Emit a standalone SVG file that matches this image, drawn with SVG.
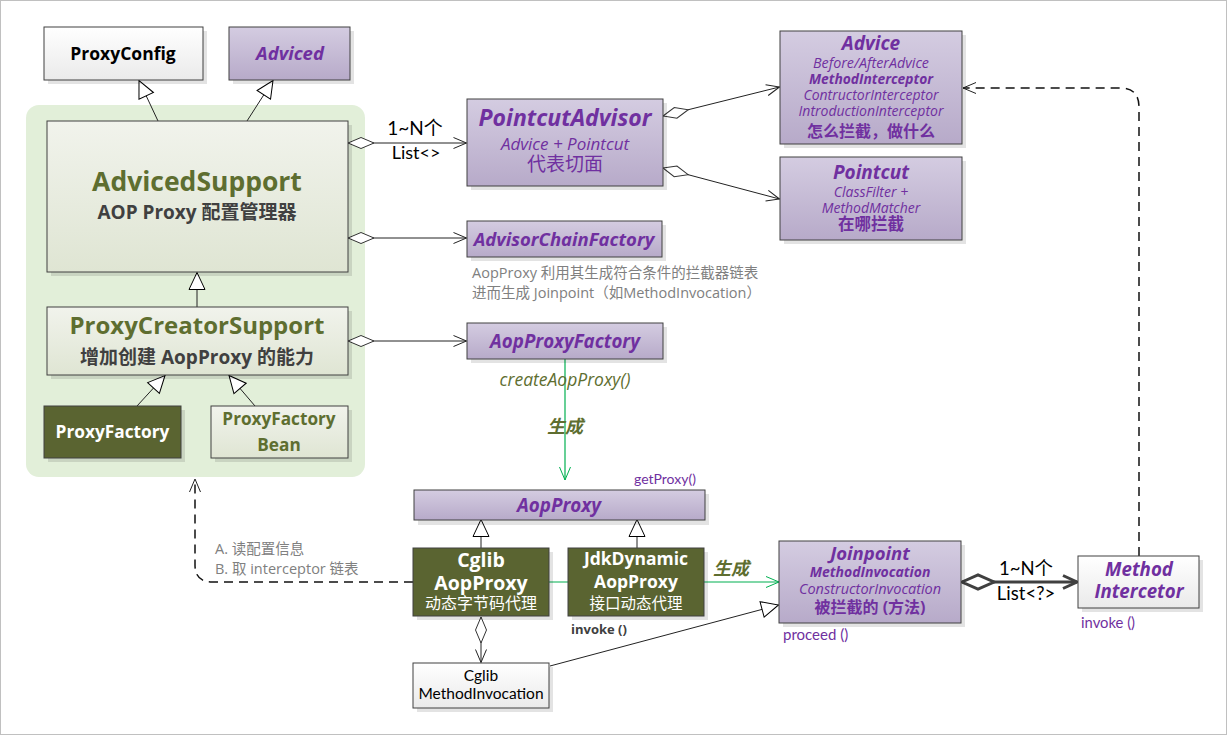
<svg xmlns="http://www.w3.org/2000/svg" width="1227" height="735" viewBox="0 0 1227 735">
<defs>
<linearGradient id="gP" x1="0" y1="0" x2="0" y2="1"><stop offset="0" stop-color="#d4cce1"/><stop offset="1" stop-color="#b7aac9"/></linearGradient>
<linearGradient id="gW" x1="0" y1="0" x2="0" y2="1"><stop offset="0" stop-color="#ffffff"/><stop offset="1" stop-color="#eaeaea"/></linearGradient>
<linearGradient id="gL" x1="0" y1="0" x2="0" y2="1"><stop offset="0" stop-color="#f1f3ec"/><stop offset="1" stop-color="#dfe5d3"/></linearGradient>
<marker id="tri" viewBox="0 0 20 18" markerWidth="20" markerHeight="18" refX="18" refY="9" orient="auto" markerUnits="userSpaceOnUse"><path d="M1,1 L18,9 L1,17 Z" fill="#fff" stroke="#000" stroke-width="1"/></marker>
<marker id="dia" viewBox="0 0 30 14" markerWidth="30" markerHeight="14" refX="1" refY="7" orient="auto" markerUnits="userSpaceOnUse"><path d="M1,7 L14,1.5 L27,7 L14,12.5 Z" fill="#fff" stroke="#333" stroke-width="1"/></marker>
<marker id="arr" viewBox="0 0 16 14" markerWidth="16" markerHeight="14" refX="14" refY="7" orient="auto" markerUnits="userSpaceOnUse"><path d="M1,1.5 L14,7 L1,12.5" fill="none" stroke="#222" stroke-width="1"/></marker>
<marker id="arrG" viewBox="0 0 16 14" markerWidth="16" markerHeight="14" refX="14" refY="7" orient="auto" markerUnits="userSpaceOnUse"><path d="M1,1.5 L14,7 L1,12.5" fill="none" stroke="#00b050" stroke-width="1"/></marker>
<marker id="diaT" viewBox="0 0 40 20" markerWidth="40" markerHeight="20" refX="2" refY="10" orient="auto" markerUnits="userSpaceOnUse"><path d="M2,10 L18,3 L34,10 L18,17 Z" fill="#fff" stroke="#404040" stroke-width="3"/></marker>
<marker id="arrT" viewBox="0 0 20 18" markerWidth="20" markerHeight="18" refX="17" refY="9" orient="auto" markerUnits="userSpaceOnUse"><path d="M3,2.5 L17,9 L3,15.5" fill="none" stroke="#404040" stroke-width="3"/></marker>
<style>
text{font-family:"Open Sans","Noto Sans CJK SC",sans-serif;}
.c{text-anchor:middle;}
.box{stroke:#404040;stroke-width:1;}
.sh{fill:#000;fill-opacity:0.11;}
.pt{fill:#7030a0;font-weight:bold;font-style:italic;}
.pi{fill:#7030a0;font-style:italic;}
.ol{fill:#5e6e30;font-weight:bold;}
.wt{fill:#ffffff;font-weight:bold;}
.gr{fill:#808080;font-size:14.5px;}
.cal{font-family:Lato,"Noto Sans CJK SC",sans-serif;}
.ln{fill:none;stroke:#222;stroke-width:1;}
.dash{fill:none;stroke:#111;stroke-width:1.5;stroke-dasharray:9,6;}
</style>
</defs>
<rect x="0.5" y="0.5" width="1226" height="734" fill="#fff" stroke="#c0c0c0"/>
<rect id="group-bg" x="26" y="105" width="339" height="372" rx="13" fill="#e2efd9"/>

<g id="connectors">
<line class="ln" x1="158" y1="121" x2="139" y2="80.5" marker-end="url(#tri)"/>
<line class="ln" x1="247" y1="121" x2="273" y2="80.5" marker-end="url(#tri)"/>
<line class="ln" x1="197" y1="307" x2="197" y2="272.5" marker-end="url(#tri)"/>
<line class="ln" x1="137" y1="406" x2="165" y2="375.5" marker-end="url(#tri)"/>
<line class="ln" x1="255" y1="406" x2="229" y2="375.5" marker-end="url(#tri)"/>
<line class="ln" x1="348" y1="143" x2="466.5" y2="143" marker-start="url(#dia)" marker-end="url(#arr)"/>
<line class="ln" x1="663" y1="116" x2="779.5" y2="87" marker-start="url(#dia)" marker-end="url(#arr)"/>
<line class="ln" x1="663" y1="168" x2="779.5" y2="199" marker-start="url(#dia)" marker-end="url(#arr)"/>
<line class="ln" x1="348" y1="238" x2="466.5" y2="238" marker-start="url(#dia)" marker-end="url(#arr)"/>
<line class="ln" x1="348" y1="341" x2="466.5" y2="341" marker-start="url(#dia)" marker-end="url(#arr)"/>
<line x1="565" y1="359" x2="565" y2="480" stroke="#00b050" stroke-width="1.2" marker-end="url(#arrG)"/>
<line class="ln" x1="481" y1="548" x2="481" y2="519.5" marker-end="url(#tri)"/>
<line class="ln" x1="637" y1="548" x2="637" y2="519.5" marker-end="url(#tri)"/>
<line x1="549" y1="582" x2="779" y2="582" stroke="#00b050" stroke-width="1.2" marker-end="url(#arrG)"/>
<path class="dash" d="M413,582 H212 Q195,582 195,565 V479" marker-end="url(#arr)"/>
<line class="ln" x1="481" y1="617" x2="481" y2="662.5" marker-start="url(#dia)" marker-end="url(#arr)"/>
<line class="ln" x1="550" y1="666" x2="778.5" y2="605" marker-end="url(#tri)"/>
<line x1="962" y1="582" x2="1077" y2="582" stroke="#404040" stroke-width="3" marker-start="url(#diaT)" marker-end="url(#arrT)"/>
<path class="dash" d="M1139,556 V107 Q1139,88 1120,88 H963" marker-end="url(#arr)"/>
<text class="cal c" x="415" y="135" font-size="19" fill="#000">1~N个</text>
<text class="cal c" x="416" y="159" font-size="18" fill="#000">List&lt;&gt;</text>
<text class="cal c" x="1026" y="575" font-size="18.5" fill="#000">1~N个</text>
<text class="cal c" x="1026" y="600" font-size="18.5" fill="#000">List&lt;?&gt;</text>
<text class="c" x="565" y="386" font-size="17.5" font-style="italic" fill="#5e6e30">createAopProxy()</text>
<text class="c" x="565" y="433" font-size="18" font-weight="bold" font-style="italic" fill="#5e6e30">生成</text>
<text x="713" y="575" font-size="18" font-weight="bold" font-style="italic" fill="#5e6e30">生成</text>
<text class="gr" x="215" y="554" font-size="14">A. 读配置信息</text>
<text class="gr" x="215" y="574" font-size="14">B. 取 interceptor 链表</text>
</g>

<g id="ProxyConfig">
<rect class="sh" x="48" y="31" width="159" height="53"/>
<rect class="box" x="44" y="27" width="159" height="53" fill="url(#gW)"/>
<text class="c" x="123" y="60" font-size="17.5" font-weight="bold" fill="#000">ProxyConfig</text>
</g>
<g id="Adviced">
<rect class="sh" x="233" y="31" width="121" height="53"/>
<rect class="box" x="229" y="27" width="121" height="53" fill="url(#gP)"/>
<text class="c pt" x="290" y="60" font-size="18.5">Adviced</text>
</g>
<g id="AdvicedSupport">
<rect class="sh" x="51" y="125" width="301" height="151"/>
<rect class="box" x="47" y="121" width="301" height="151" fill="url(#gL)"/>
<text class="c ol" x="197" y="191" font-size="26.5">AdvicedSupport</text>
<text class="c" x="197" y="219" font-size="19" font-weight="bold" fill="#404040">AOP Proxy 配置管理器</text>
</g>
<g id="ProxyCreatorSupport">
<rect class="sh" x="51" y="311" width="301" height="68"/>
<rect class="box" x="47" y="307" width="301" height="68" fill="url(#gL)"/>
<text class="c ol" x="197" y="334" font-size="24">ProxyCreatorSupport</text>
<text class="c" x="197" y="364" font-size="19" font-weight="bold" fill="#404040">增加创建 AopProxy 的能力</text>
</g>
<g id="ProxyFactory">
<rect class="sh" x="48" y="410" width="137" height="52"/>
<rect class="box" x="44" y="406" width="137" height="52" fill="#5a6431"/>
<text class="c wt" x="112.5" y="438" font-size="17.3">ProxyFactory</text>
</g>
<g id="ProxyFactoryBean">
<rect class="sh" x="215" y="410" width="137" height="52"/>
<rect class="box" x="211" y="406" width="137" height="52" fill="url(#gL)"/>
<text class="c ol" x="279" y="425" font-size="17.2">ProxyFactory</text>
<text class="c ol" x="279" y="451" font-size="17.2">Bean</text>
</g>
<g id="PointcutAdvisor">
<rect class="sh" x="471" y="103" width="196" height="87"/>
<rect class="box" x="467" y="99" width="196" height="87" fill="url(#gP)"/>
<text class="c pt" x="565" y="126" font-size="23">PointcutAdvisor</text>
<text class="c pi" x="565" y="150" font-size="17">Advice + Pointcut</text>
<text class="c" x="565" y="171" font-size="19" fill="#7030a0">代表切面</text>
</g>
<g id="Advice">
<rect class="sh" x="784" y="35" width="182" height="113"/>
<rect class="box" x="780" y="31" width="182" height="113" fill="url(#gP)"/>
<text class="c pt" x="871" y="50" font-size="19">Advice</text>
<text class="c pi" x="871" y="68" font-size="14.3">Before/AfterAdvice</text>
<text class="c pt" x="871" y="84" font-size="13.8">MethodInterceptor</text>
<text class="c pi" x="871" y="100" font-size="14">ContructorInterceptor</text>
<text class="c pi" x="871" y="116" font-size="14">IntroductionInterceptor</text>
<text class="c" x="871" y="137" font-size="16" font-weight="bold" fill="#7030a0">怎么拦截，做什么</text>
</g>
<g id="Pointcut">
<rect class="sh" x="784" y="161" width="182" height="83"/>
<rect class="box" x="780" y="157" width="182" height="83" fill="url(#gP)"/>
<text class="c pt" x="871" y="179" font-size="19">Pointcut</text>
<text class="c pi" x="871" y="197" font-size="14">ClassFilter +</text>
<text class="c pi" x="871" y="213" font-size="14">MethodMatcher</text>
<text class="c" x="871" y="230" font-size="16.5" font-weight="bold" fill="#7030a0">在哪拦截</text>
</g>
<g id="AdvisorChainFactory">
<rect class="sh" x="471" y="225" width="195" height="36"/>
<rect class="box" x="467" y="221" width="195" height="36" fill="url(#gP)"/>
<text class="c pt" x="564" y="246" font-size="18.5">AdvisorChainFactory</text>
<text class="gr" x="472" y="278">AopProxy 利用其生成符合条件的拦截器链表</text>
<text class="gr" x="472" y="298">进而生成 Joinpoint（如MethodInvocation）</text>
</g>
<g id="AopProxyFactory">
<rect class="sh" x="471" y="327" width="196" height="36"/>
<rect class="box" x="467" y="323" width="196" height="36" fill="url(#gP)"/>
<text class="c pt" x="565" y="348" font-size="18.7">AopProxyFactory</text>
</g>
<g id="AopProxy">
<rect class="sh" x="418" y="494" width="291" height="31"/>
<rect class="box" x="414" y="490" width="291" height="30" fill="url(#gP)"/>
<text class="c pt" x="559" y="512" font-size="18.8">AopProxy</text>
<text class="cal" x="634" y="484" font-size="14" fill="#7030a0">getProxy()</text>
</g>
<g id="CglibAopProxy">
<rect class="sh" x="417" y="552" width="136" height="68"/>
<rect class="box" x="413" y="548" width="136" height="68" fill="#5a6431"/>
<text class="c wt" x="481" y="567" font-size="19.5">Cglib</text>
<text class="c wt" x="481" y="590" font-size="19.5">AopProxy</text>
<text class="c" x="481" y="609" font-size="16" fill="#fff">动态字节码代理</text>
</g>
<g id="JdkDynamicAopProxy">
<rect class="sh" x="572" y="552" width="136" height="68"/>
<rect class="box" x="568" y="548" width="136" height="68" fill="#5a6431"/>
<text class="c wt" x="636" y="565" font-size="17.5">JdkDynamic</text>
<text class="c wt" x="636" y="588" font-size="17.5">AopProxy</text>
<text class="c" x="636" y="609" font-size="15.5" fill="#fff">接口动态代理</text>
<text x="571" y="634" font-size="13" font-weight="bold" fill="#404040">invoke ()</text>
</g>
<g id="CglibMethodInvocation">
<rect class="sh" x="417" y="667" width="136" height="45"/>
<rect class="box" x="413" y="663" width="136" height="45" fill="url(#gW)"/>
<text class="c cal" x="481" y="681" font-size="15.5" fill="#000">Cglib</text>
<text class="c cal" x="481" y="699" font-size="15.5" fill="#000">MethodInvocation</text>
</g>
<g id="Joinpoint">
<rect class="sh" x="783" y="545" width="182" height="82"/>
<rect class="box" x="779" y="541" width="182" height="82" fill="url(#gP)"/>
<text class="c pt" x="870" y="560" font-size="18.5">Joinpoint</text>
<text class="c pt" x="870" y="577" font-size="14">MethodInvocation</text>
<text class="c pi" x="870" y="594" font-size="14.5">ConstructorInvocation</text>
<text class="c" x="870" y="613" font-size="16" font-weight="bold" fill="#7030a0">被拦截的 (方法)</text>
<text class="cal" x="783" y="640" font-size="15" fill="#7030a0">proceed ()</text>
</g>
<g id="MethodIntercetor">
<rect class="sh" x="1082" y="560" width="121" height="52"/>
<rect class="box" x="1078" y="556" width="121" height="52" fill="url(#gW)"/>
<text class="c pt" x="1139" y="576" font-size="18.7">Method</text>
<text class="c pt" x="1139" y="598" font-size="18.7">Intercetor</text>
<text class="cal" x="1081" y="628" font-size="14.8" fill="#7030a0">invoke ()</text>
</g>
</svg>
